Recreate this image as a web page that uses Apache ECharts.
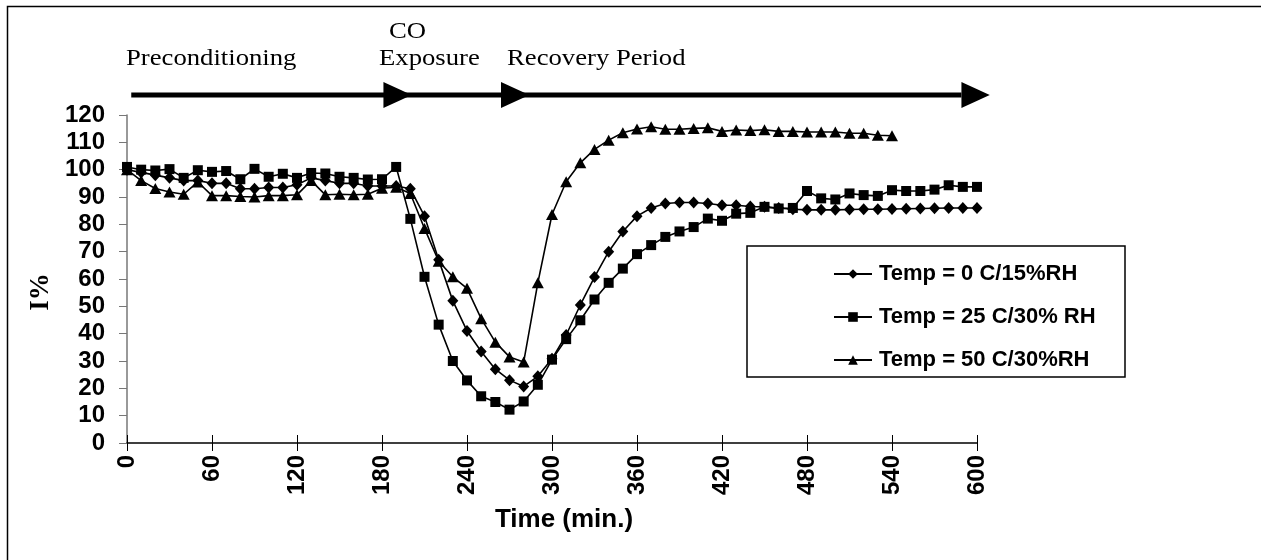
<!DOCTYPE html>
<html>
<head>
<meta charset="utf-8">
<script src="https://cdn.jsdelivr.net/npm/echarts@6/dist/echarts.min.js"></script>
<style>
html,body{margin:0;padding:0;background:#fff;}
#chart{width:1261px;height:560px;}
</style>
</head>
<body>
<div id="chart"></div>
<script>
// Time in minutes (10-minute steps)
const times = [0,10,20,30,40,50,60,70,80,90,100,110,120,130,140,150,160,170,180,190,200,210,220,230,240,250,260,270,280,290,300,310,320,330,340,350,360,370,380,390,400,410,420,430,440,450,460,470,480,490,500,510,520,530,540,550,560,570,580,590,600];

const seriesNames = ['Temp = 0 C/15%RH', 'Temp = 25 C/30% RH', 'Temp = 50 C/30%RH'];

const temp0 = [100,99,98,97,96,96,95,95,93,93,93.5,93.5,94.5,97,96,95,95,94,94,94,93,83,67,52,41,33.5,27,23,20.7,24.4,30.8,39.5,50.5,60.7,70,77.4,83,86,87.6,88,88,87.6,87,87,86.5,86.4,86,85.5,85.3,85.3,85.3,85.4,85.5,85.5,85.6,85.7,85.8,85.9,86,86,86];

const temp25 = [101,100,99.7,100.2,97,99.8,99.2,99.5,96.5,100.3,97.4,98.5,97,98.8,98.6,97.4,97,96.4,96.5,101,82,60.8,43.3,30,22.9,17.1,15,12.2,15.2,21.3,30.5,38,44.9,52.5,58.6,63.8,69.1,72.4,75.4,77.4,79,82.1,81.3,83.9,84.2,86.4,85.8,86,92.2,89.5,89.1,91.3,90.7,90.4,92.5,92.2,92.2,92.7,94.3,93.7,93.7];

const temp50 = [100,96,93.1,91.8,91,95.5,90.5,90.5,90.2,90,90.5,90.5,90.8,96,90.8,91,90.8,91,93.2,93.6,91.3,78.5,66.5,60.8,56.6,45.5,36.9,31.5,29.6,58.6,83.6,95.6,102.5,107.4,110.8,113.5,114.9,115.7,114.8,114.8,115.1,115.3,114,114.5,114.3,114.6,114,114,113.8,113.8,113.8,113.3,113.3,112.6,112.4];

const symbols = ['diamond', 'rect', 'triangle'];
const symbolSizes = [[11,12], [10,10], [12,11]];
const values = [temp0, temp25, temp50];

// Phase annotations
const phaseLabels = ['Preconditioning', 'CO', 'Exposure', 'Recovery Period'];
const arrowHeadStarts = [181, 264, 589]; // minutes where arrow heads begin
const arrowHeadLen = 20; // minutes
const arrowLineStart = 3;

const xTicks = {min: 0, max: 600, interval: 60};
const yTicks = {min: 0, max: 120, interval: 10};

const chart = echarts.init(document.getElementById('chart'), null, {renderer: 'canvas'});

const series = values.map((vals, i) => ({
  name: seriesNames[i],
  type: 'line',
  xAxisIndex: 0,
  yAxisIndex: 0,
  data: vals.map((v, k) => [times[k], v]),
  symbol: symbols[i],
  symbolSize: symbolSizes[i],
  showSymbol: true,
  lineStyle: {color: '#000', width: 1.6},
  itemStyle: {color: '#000', borderWidth: 0},
  emphasis: {disabled: true},
  animation: false,
  z: 3 + (2 - i)
}));

const sansBold = {fontFamily: 'Liberation Sans', fontWeight: 'bold', color: '#000'};

chart.setOption({
  backgroundColor: '#fff',
  animation: false,
  grid: {left: 127, right: 284, top: 115, bottom: 117, containLabel: false},
  xAxis: [{
    type: 'value', min: xTicks.min, max: xTicks.max, interval: xTicks.interval,
    position: 'bottom',
    axisLine: {show: true, onZero: false, lineStyle: {color: '#000', width: 1.5}},
    axisTick: {show: true, inside: false, length: 8, lineStyle: {color: '#000', width: 1}},
    axisLabel: Object.assign({rotate: 90, margin: 12, fontSize: 24}, sansBold),
    splitLine: {show: false},
    name: 'Time (min.)',
    nameLocation: 'middle',
    nameGap: 64,
    nameTextStyle: Object.assign({fontSize: 26, padding: [0, 0, 0, 24]}, sansBold)
  }, {
    type: 'value', min: xTicks.min, max: xTicks.max, interval: xTicks.interval,
    position: 'bottom',
    axisLine: {show: false},
    axisTick: {show: true, inside: true, length: 8, lineStyle: {color: '#000', width: 1}},
    axisLabel: {show: false},
    splitLine: {show: false}
  }],
  yAxis: [{
    type: 'value', min: yTicks.min, max: yTicks.max, interval: yTicks.interval,
    axisLine: {show: true, onZero: false, lineStyle: {color: '#777', width: 1.5}},
    axisTick: {show: true, inside: false, length: 8, lineStyle: {color: '#777', width: 1}},
    axisLabel: Object.assign({margin: 22, fontSize: 24}, sansBold),
    splitLine: {show: false},
    name: 'I%',
    nameLocation: 'middle',
    nameRotate: 90,
    nameGap: 66,
    nameTextStyle: {fontFamily: 'Liberation Serif', fontWeight: 'bold', fontSize: 27, color: '#000', padding: [0, 26, 0, 0]}
  }, {
    type: 'value', min: yTicks.min, max: yTicks.max, interval: yTicks.interval,
    axisLine: {show: false},
    axisTick: {show: true, inside: true, length: 8, lineStyle: {color: '#777', width: 1}},
    axisLabel: {show: false},
    splitLine: {show: false}
  }],
  legend: {
    show: true,
    orient: 'vertical',
    left: 828,
    top: 257,
    itemWidth: 38,
    itemHeight: 12,
    itemGap: 19,
    selectedMode: false,
    data: seriesNames,
    textStyle: Object.assign({fontSize: 22, lineHeight: 24, padding: [0,0,0,2]}, sansBold)
  },
  series: series
});

// Annotations positioned using the axis scale
function px(t, v) { return chart.convertToPixel({xAxisIndex: 0, yAxisIndex: 0}, [t, v]); }
const arrowY = 95;
const x0 = px(arrowLineStart, 0)[0];
const xEnd = px(arrowHeadStarts[2], 0)[0];
const heads = arrowHeadStarts.map(t => {
  const a = px(t, 0)[0], b = px(t + arrowHeadLen, 0)[0];
  return {type: 'polygon', shape: {points: [[a, arrowY - 13], [b, arrowY], [a, arrowY + 13]]}, style: {fill: '#000'}, silent: true};
});
const serifText = {fontFamily: 'Liberation Serif', fontSize: 23, fill: '#000'};
function label(text, x, y) {
  return {type: 'text', x: x, y: y, scaleX: 1.16, style: Object.assign({text: text}, serifText), silent: true};
}

chart.setOption({
  graphic: [
    {type: 'rect', shape: {x: 7.5, y: 6.5, width: 1262, height: 560}, style: {fill: 'none', stroke: '#000', lineWidth: 1.5}, silent: true, z: -1},
    {type: 'rect', shape: {x: 747, y: 246, width: 378, height: 131}, style: {fill: '#fff', stroke: '#000', lineWidth: 1.5}, silent: true, z: 0},
    {type: 'line', shape: {x1: x0, y1: arrowY, x2: xEnd, y2: arrowY}, style: {stroke: '#000', lineWidth: 5}, silent: true},
    ...heads,
    label(phaseLabels[0], 126, 47),
    label(phaseLabels[1], 389, 20),
    label(phaseLabels[2], 379, 47),
    label(phaseLabels[3], 507, 47)
  ]
});
</script>
</body>
</html>
